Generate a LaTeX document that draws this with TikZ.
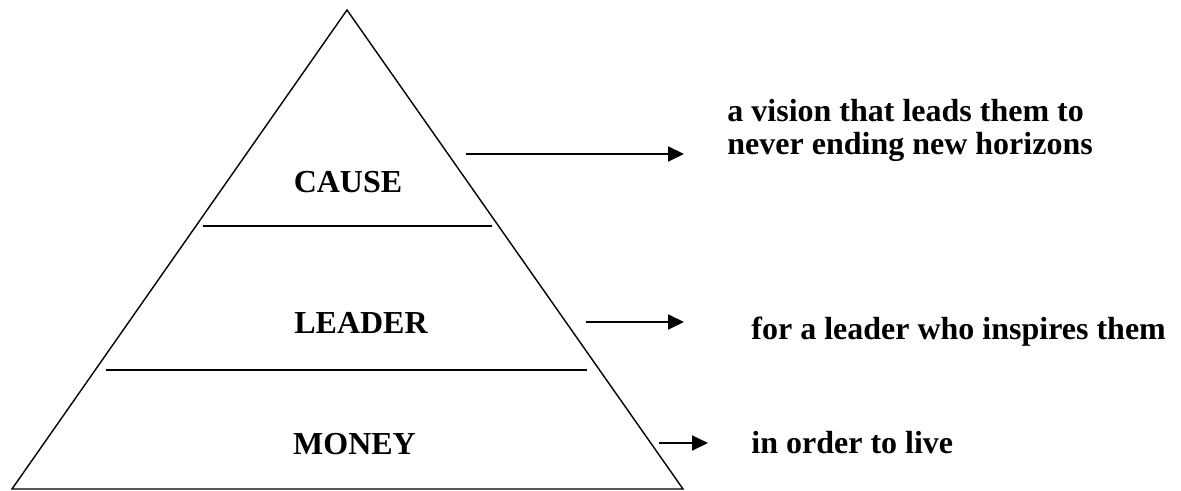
\documentclass[tikz,border=0pt]{standalone}
\usepackage{fontspec}
\setmainfont{Liberation Serif}
\usetikzlibrary{arrows.meta}

\begin{document}
\begin{tikzpicture}[x=0.5pt,y=-0.5pt,every node/.style={font=\bfseries\fontsize{16}{16.5}\selectfont,inner sep=0pt},layer/.style={line width=1pt},pointer/.style={-{Triangle[length=8pt,width=7.5pt]},line width=0.9pt}]
      \useasboundingbox (0,0) rectangle (1181,491);
      % pyramid
      \coordinate (top) at (347,10);
      \coordinate (bl) at (12,489);
      \coordinate (br) at (683,489);
      \draw[line width=0.7pt] (top) -- (bl) -- (br) -- cycle;
      \coordinate (c1l) at (203,226); \coordinate (c1r) at (492,226);
      \coordinate (c2l) at (106,370); \coordinate (c2r) at (587,370);
      \draw[layer] (c1l) -- (c1r);
      \draw[layer] (c2l) -- (c2r);
      \node[anchor=base] (cause) at (348,193) {CAUSE};
      \node[anchor=base] (leader) at (361,333) {LEADER};
      \node[anchor=base] (money) at (354.5,454) {MONEY};
      % reasons
      \node[anchor=base west,align=left] (vision) at (727,155) {a vision that leads them to\\never ending new horizons};
      \node[anchor=base west] (inspire) at (751,339) {for a leader who inspires them};
      \node[anchor=base west] (live) at (751,453) {in order to live};
      \coordinate (a1) at (466,154); \coordinate (b1) at (684,154);
      \coordinate (a2) at (586,322); \coordinate (b2) at (684,322);
      \coordinate (a3) at (659,443); \coordinate (b3) at (708,443);
      \draw[pointer] (a1) -- (b1);
      \draw[pointer] (a2) -- (b2);
      \draw[pointer] (a3) -- (b3);
\end{tikzpicture}
\end{document}
